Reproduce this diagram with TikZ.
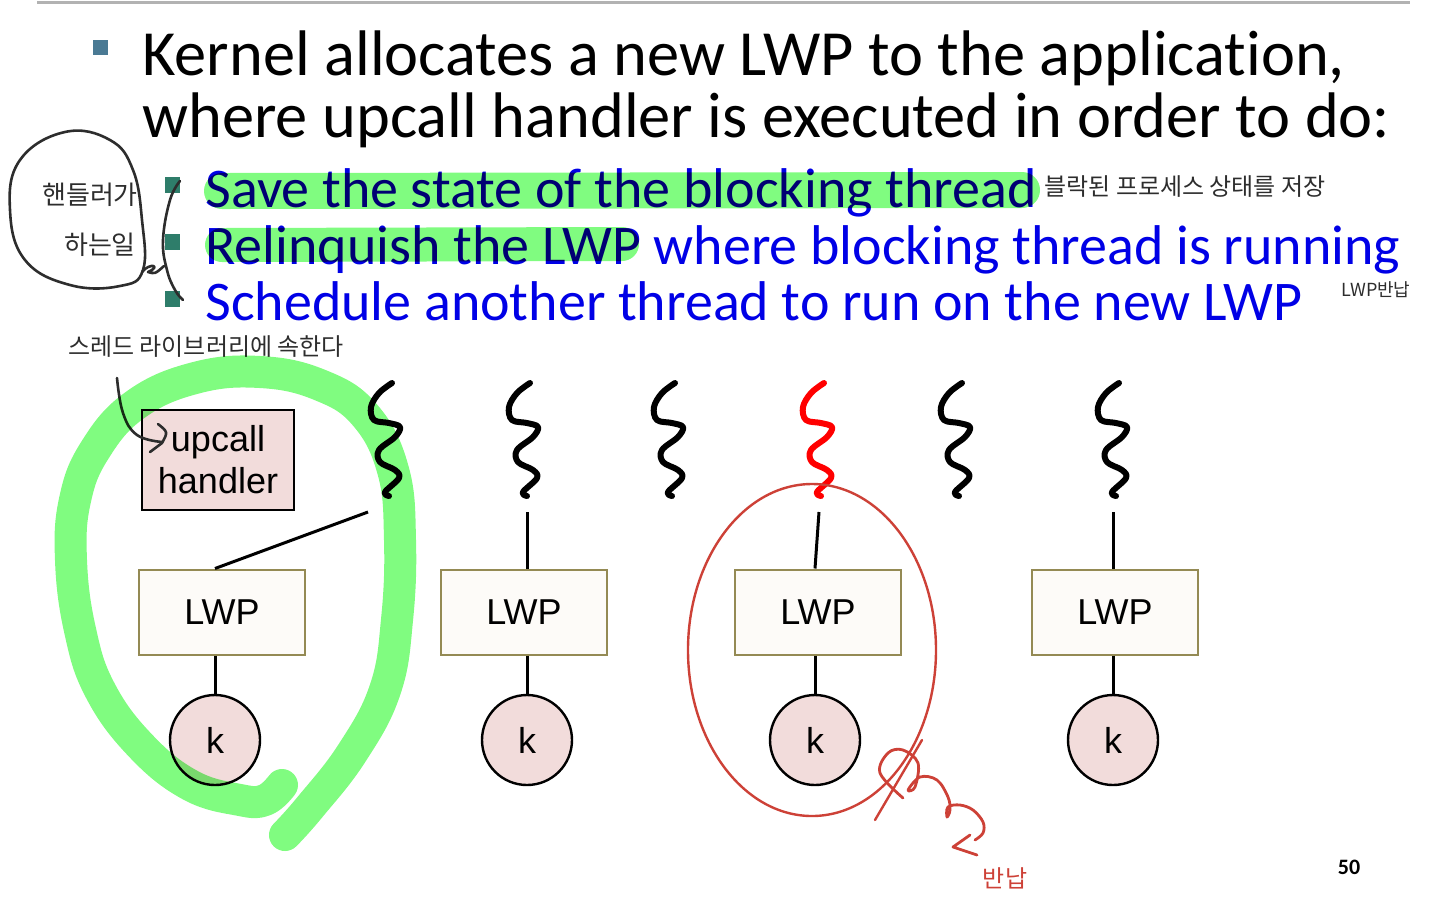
\documentclass[tikz,border=0pt]{standalone}
\usepackage{fontspec}
\setmainfont{Carlito}[Ligatures=NoCommon]
\newfontfamily\arialfont{Liberation Sans}
\newfontfamily\hanfont{Noto Sans CJK KR}
\definecolor{slideblue}{RGB}{0,0,230}
\definecolor{bulletgray}{RGB}{74,122,148}
\definecolor{bulletgreen}{RGB}{46,125,106}
\definecolor{marker}{RGB}{128,252,128}
\definecolor{lwpedge}{RGB}{148,138,84}
\definecolor{lwpfill}{RGB}{253,251,248}
\definecolor{kfill}{RGB}{242,220,219}
\definecolor{penred}{RGB}{205,65,55}
\definecolor{pen}{RGB}{45,45,45}
\begin{document}
\begin{tikzpicture}[x=0.5pt, y=-0.5pt,
  every node/.style={inner sep=0pt},
  lwp/.style={draw=lwpedge, fill=lwpfill, line width=1pt, minimum width=83pt, minimum height=42.5pt, font=\arialfont\fontsize{18}{21}\selectfont},
  kern/.style={circle, draw, fill=kfill, line width=1.2pt, minimum size=45pt, font=\arialfont\fontsize{18}{21}\selectfont},
  upcall/.style={draw, fill=kfill, line width=0.7pt, minimum width=76pt, minimum height=50pt, align=center, font=\arialfont\fontsize{18}{21}\selectfont},
  link/.style={line width=1.5pt},
  thread/.style={line width=3pt, line cap=round, line join=round},
  hl/.style={marker, line cap=round, line join=round},
  pen/.style={draw=pen, line width=1.3pt, line cap=round, line join=round},
  redpen/.style={draw=penred, line width=1.2pt, line cap=round, line join=round},
  big/.style={anchor=base west, font=\fontsize{32.2}{38}\selectfont},
  sub/.style={anchor=base west, text=slideblue, font=\fontsize{28}{33}\selectfont},
  hand/.style={text=pen, font=\hanfont\fontsize{12}{14}\selectfont}]
  \useasboundingbox (0,0) rectangle (1440,907);
  \draw[gray!60, line width=1.5pt] (37,2) -- (1410,2);

  % slide text
  \fill[bulletgray] (93,40) rectangle (108,55);
  \node[big] (l1) at (142,75) {Kernel allocates a new LWP to the application,};
  \node[big] (l2) at (142,137) {where upcall handler is executed in order to do:};
  \foreach \y in {185,242,299}
    \fill[bulletgreen] (165,\y-8) rectangle (180,\y+8);
  \node[sub] (s1) at (205,207) {Save the state of the blocking thread};
  \node[sub] (s2) at (205,264) {Relinquish the LWP where blocking thread is running};
  \node[sub] (s3) at (205,320) {Schedule another thread to run on the new LWP};
  \node[font=\bfseries\fontsize{11}{12}\selectfont] (pg) at (1349,867) {50};

  % threads
  \foreach \x/\c in {385/black, 523/black, 668/black, 817/red, 955/black, 1112/black}
    \draw[thread, \c, shift={(\x,383)}] plot[smooth, tension=0.6] coordinates {(7,0) (-6,10) (-14,24) (-11,37) (4,40) (15,44) (10,54) (-6,67) (-5,79) (10,87) (14,95) (0,109) (4,113)};

  % LWPs and kernel threads
  \node[upcall] (uh) at (218,460) {upcall\\handler};
  \foreach \i/\x/\kx/\t in {1/222/215/368, 2/524/527/527, 3/818/815/819, 4/1115/1113/1113} {
    \node[lwp] (lwp\i) at (\x,612) {LWP};
    \node[kern] (k\i) at (\kx,740) {k};
    \coordinate (th\i) at (\t,512);
    \draw[link] (lwp\i.south -| k\i) -- (k\i);
    \draw[link] (lwp\i.north -| k\i) -- (th\i);
  }

  % handwritten notes
  \node[hand] (n1) at (1185,187) {블락된 프로세스 상태를 저장};
  \node[hand, font=\hanfont\fontsize{9}{10}\selectfont] (n2) at (1376,290) {LWP반납};
  \node[hand] (n3) at (206,347) {스레드 라이브러리에 속한다};
  \node[hand, font=\hanfont\fontsize{13}{14}\selectfont] (n4) at (90,195) {핸들러가};
  \node[hand, font=\hanfont\fontsize{13}{14}\selectfont] (n5) at (100,245) {하는일};
  \node[hand, text=penred] (n6) at (1005,878) {반납};
  \draw[pen] plot[smooth cycle, tension=0.7] coordinates {(65,132) (110,140) (133,170) (142,220) (143,270) (120,286) (70,285) (25,260) (10,210) (20,160)};
  \draw[pen] (142,272) .. controls (150,262) and (162,266) .. (148,272) .. controls (155,274) .. (164,266);
  \draw[pen] plot[smooth, tension=0.7] coordinates {(180,181) (170,200) (163,240) (167,270) (175,290) (183,300)};
  \draw[pen] plot[smooth, tension=0.7] coordinates {(117,378) (123,413) (137,435) (162,442)};
  \draw[pen] (158,424) .. controls (168,432) .. (162,443) -- (150,452);
  \draw[redpen] (812,650) ellipse (124 and 166);
  \draw[redpen] (922,740) -- (875,820);
  \draw[redpen, line width=1.4pt] plot[smooth, tension=0.6] coordinates {(903,798) (880,773) (888,753) (903,750) (918,763) (915,787) (908,790) (920,777) (937,780) (948,797) (950,810) (947,817) (948,807) (960,805) (973,810) (983,822) (983,833) (975,840)};
  \draw[redpen, line width=1.4pt] (970,835) -- (953,847) -- (977,855);

  % highlighter
  \begin{scope}[blend mode=multiply]
    \draw[hl, line width=18pt] (222,191) -- (1022,190);
    \draw[hl, line width=17pt] (222,245) -- (622,244);
    \draw[hl, line width=16pt] plot[smooth, tension=0.7] coordinates {(285,835) (310,807) (352,753) (385,690) (397,620) (400,540) (393,470) (365,415) (320,385) (260,372) (195,378) (135,405) (95,450) (75,500) (71,560) (80,630) (100,690) (140,745) (190,785) (240,800) (265,800) (282,785)};
  \end{scope}
\end{tikzpicture}
\end{document}
